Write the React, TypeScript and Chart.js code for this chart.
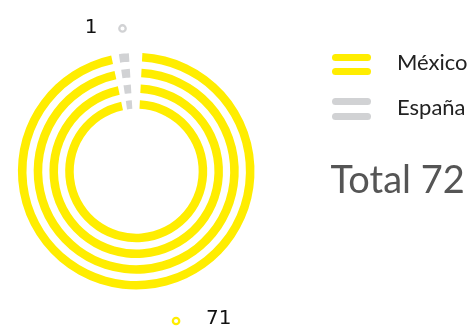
import React, { useEffect, useRef } from "react";
import { Chart, registerables } from "chart.js";

Chart.register(...registerables);

// ---- data ----
const CATEGORIES = ["México", "España"];
const VALUES = [71, 1];
const COLORS = ["#FFED00", "#D1D2D4"];

// ---- layout constants (not data) ----
const RING_COUNT = 4;
const GAP_BEFORE_SMALL = 0.78; // transparent separator slice (in value units)
const GAP_AFTER_SMALL = 1.35;
const RING_WEIGHT = 8.7;
const SPACER_WEIGHT = 7.3;
const TRANSPARENT = "rgba(0,0,0,0)";

const valueLabelPlugin = {
  id: "valueLabels",
  afterDatasetsDraw(chart: any, _args: any, opts: any) {
    const meta = chart.getDatasetMeta(0);
    const ctx = chart.ctx as CanvasRenderingContext2D;
    const elementIndex = [0, 2];
    CATEGORIES.forEach((_c, cat) => {
      const el = meta.data[elementIndex[cat]];
      if (!el) return;
      const p = el.getProps(["x", "y", "startAngle", "endAngle", "outerRadius"], true);
      const shift = opts.shifts[cat];
      const a = (p.startAngle + p.endAngle) / 2 + (shift.angle * Math.PI) / 180;
      const r = p.outerRadius + shift.radius;
      const mx = p.x + r * Math.cos(a);
      const my = p.y + r * Math.sin(a);
      ctx.save();
      ctx.beginPath();
      ctx.arc(mx, my, 3.2, 0, Math.PI * 2);
      ctx.fillStyle = "#ffffff";
      ctx.fill();
      ctx.lineWidth = 2.3;
      ctx.strokeStyle = COLORS[cat];
      ctx.stroke();
      ctx.font = '20px "DejaVu Sans"';
      ctx.fillStyle = "#111111";
      ctx.textBaseline = "middle";
      if (mx >= p.x) {
        ctx.textAlign = "left";
        ctx.fillText(String(VALUES[cat]), mx + 30, my - 2);
      } else {
        ctx.textAlign = "right";
        ctx.fillText(String(VALUES[cat]), mx - 25, my - 1);
      }
      ctx.restore();
    });
  },
};

function buildDatasets() {
  const ringData = [VALUES[0], GAP_BEFORE_SMALL, VALUES[1], GAP_AFTER_SMALL];
  const ringColors = [COLORS[0], TRANSPARENT, COLORS[1], TRANSPARENT];
  const sets: any[] = [];
  for (let i = 0; i < RING_COUNT; i++) {
    sets.push({
      label: "ring" + i,
      data: ringData,
      backgroundColor: ringColors,
      borderWidth: 0,
      weight: RING_WEIGHT,
    });
    if (i < RING_COUNT - 1) {
      sets.push({
        label: "spacer" + i,
        data: [1],
        backgroundColor: TRANSPARENT,
        borderWidth: 0,
        weight: SPACER_WEIGHT,
      });
    }
  }
  return sets;
}

export default function App() {
  const canvasRef = useRef<HTMLCanvasElement | null>(null);

  useEffect(() => {
    if (!canvasRef.current) return;
    const chart = new Chart(canvasRef.current, {
      type: "doughnut",
      data: {
        labels: [CATEGORIES[0], "", CATEGORIES[1], ""],
        datasets: buildDatasets(),
      },
      options: {
        animation: false,
        responsive: false,
        maintainAspectRatio: false,
        rotation: 3,
        radius: 118.3,
        cutout: "52.8%",
        layout: { padding: { left: 0, right: 202.6, top: 32, bottom: 25.6 } },
        plugins: {
          legend: { display: false },
          tooltip: { enabled: false },
          valueLabels: {
            shifts: [
              { angle: -10.3, radius: 36.7 },
              { angle: 0.5, radius: 25.1 },
            ],
          },
        } as any,
      } as any,
      plugins: [valueLabelPlugin],
    });
    return () => chart.destroy();
  }, []);

  const total = VALUES.reduce((s, v) => s + v, 0);
  const legendTops = [48.8, 94];
  const barTops = [[54, 68.3], [98.3, 113.3]];

  return (
    <div
      style={{
        position: "fixed",
        left: 0,
        top: 0,
        width: 475,
        height: 336,
        background: "#ffffff",
        overflow: "hidden",
      }}
    >
      <canvas
        ref={canvasRef}
        width={475}
        height={336}
        style={{ position: "absolute", left: 0, top: 0, width: 475, height: 336 }}
      />
      {CATEGORIES.map((c, i) => (
        <React.Fragment key={c}>
          {barTops[i].map((t, j) => (
            <div
              key={j}
              style={{
                position: "absolute",
                left: 332.3,
                top: t,
                width: 38.7,
                height: 7,
                borderRadius: 3.5,
                background: COLORS[i],
              }}
            />
          ))}
          <div
            style={{
              position: "absolute",
              left: 397,
              top: legendTops[i],
              fontFamily: "Lato, sans-serif",
              fontSize: 22,
              lineHeight: "26.4px",
              color: "#222222",
              whiteSpace: "nowrap",
            }}
          >
            {c}
          </div>
        </React.Fragment>
      ))}
      <div
        style={{
          position: "absolute",
          left: 330.5,
          top: 155.8,
          fontFamily: "Lato, sans-serif",
          fontSize: 38,
          lineHeight: "45.6px",
          color: "#555555",
          whiteSpace: "nowrap",
        }}
      >
        Total {total}
      </div>
    </div>
  );
}
